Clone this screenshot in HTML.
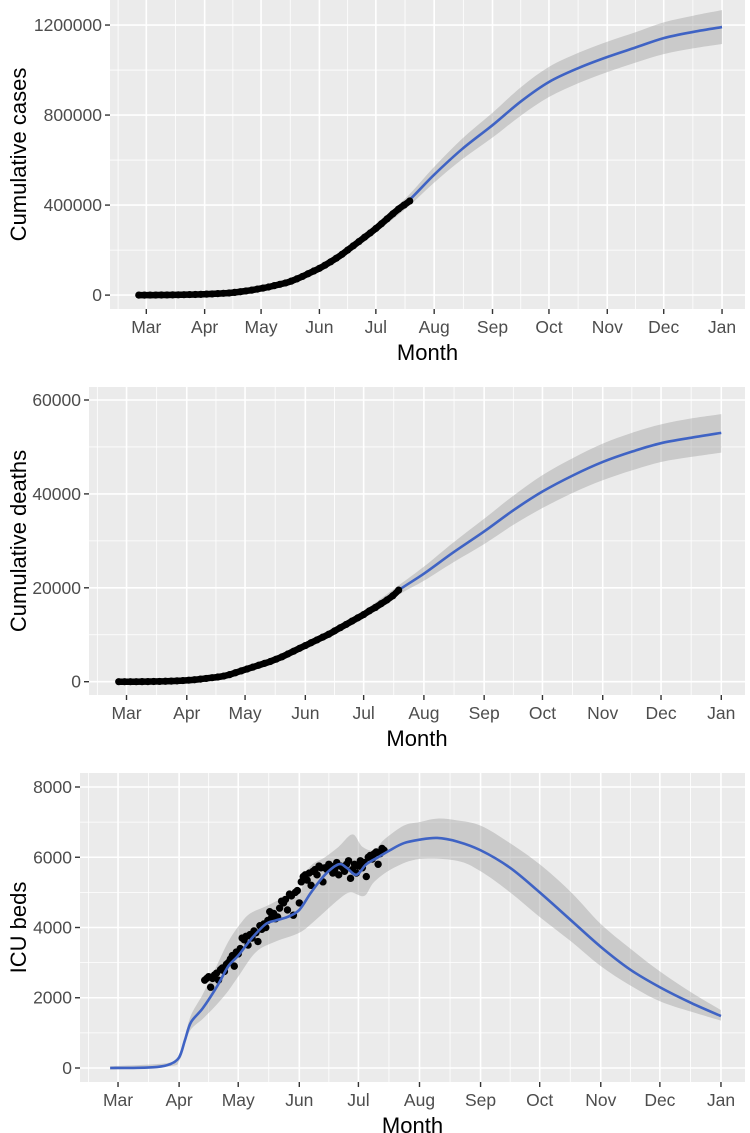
<!DOCTYPE html>
<html><head><meta charset="utf-8"><style>
body{margin:0;background:#fff}
svg{display:block;font-family:"Liberation Sans",Arial,sans-serif}
</style></head><body>
<svg id="chart" width="750" height="1133" viewBox="0 0 750 1133" xmlns="http://www.w3.org/2000/svg"></svg>
<script>
// Shared x categories: days since Mar 1
const monthLabels = ["Mar","Apr","May","Jun","Jul","Aug","Sep","Oct","Nov","Dec","Jan"];
const monthDays = [0,31,61,92,122,153,184,214,245,275,306];

// Panel 1: cumulative cases
const casesObsDays = [-4,-1,2,5,8,11,14,17,20,23,26,29,32,35,38,41,44,47,50,53,56,59,62,65,68,71,74,77,80,83,86,89,92,95,98,101,104,107,110,113,116,119,122,125,128,131,134,137,140];
const casesObs = [0,0,100,200,400,700,1000,1400,1800,2300,2800,3400,4200,5200,6500,8000,9500,12000,15000,18500,22000,26500,31000,36000,42000,48000,54000,62000,72000,83000,95000,107000,119000,133000,148000,164000,181000,200000,219000,238000,257000,276000,296000,317000,339000,361000,382000,400000,418000];
const casesLineDays = [-4,15,30,45,61,76,92,107,122,138,153,168,184,199,214,230,245,260,275,291,306];
const casesLine = [0,1100,3600,10000,30000,59000,119000,200000,296000,408000,535000,650000,755000,860000,947000,1010000,1058000,1100000,1142000,1170000,1191000];
const casesLow = [0,900,3000,8500,26000,53000,110000,187000,280000,384000,500000,604000,700000,797000,880000,943000,991000,1033000,1071000,1097000,1116000];
const casesHigh = [0,1300,4200,11500,34000,65000,128000,213000,312000,432000,570000,696000,810000,923000,1014000,1078000,1126000,1168000,1212000,1242000,1266000];
const casesTicks = [0,400000,800000,1200000];

// Panel 2: cumulative deaths
const deathsObsDays = [-4,-1,2,5,8,11,14,17,20,23,26,29,32,35,38,41,44,47,50,53,56,59,62,65,68,71,74,77,80,83,86,89,92,95,98,101,104,107,110,113,116,119,122,125,128,131,134,137,140];
const deathsObs = [0,0,0,0,10,20,40,60,90,130,180,240,320,420,550,700,850,1000,1200,1500,1900,2300,2700,3100,3500,3900,4300,4800,5300,5900,6500,7100,7700,8300,8900,9500,10100,10800,11500,12200,12900,13600,14300,15100,15800,16600,17400,18300,19500];
const deathsLineDays = [-4,15,31,46,61,76,92,107,122,140,153,168,184,199,214,230,245,260,275,291,306];
const deathsLine = [0,30,250,900,2500,4600,7700,10800,14300,19500,23000,27500,32000,36500,40500,44000,46800,49000,50800,52000,53000];
const deathsLow = [0,20,200,750,2250,4200,7200,10200,13500,18500,21500,25400,29300,33400,37000,40300,42900,45000,46800,47900,48800];
const deathsHigh = [0,40,300,1050,2750,5000,8200,11400,15100,20500,24500,29600,34700,39600,44000,47700,50700,53000,54800,56100,57000];
const deathsTicks = [0,20000,40000,60000];

// Panel 3: ICU beds
const icuObsStartDay = 44;
const icuObs = [2500,2550,2600,2300,2550,2650,2700,2500,2800,2850,
2750,2950,3000,3100,3200,2900,3300,3250,3400,3700,
3650,3750,3500,3800,3700,3900,3850,3600,4050,3950,
4100,4000,4200,4450,4300,4400,4250,4300,4550,4750,
4700,4800,4500,4950,4900,4350,5000,5050,4700,5300,
5450,5500,5350,5550,5200,5600,5650,5500,5750,5700,
5300,5700,5650,5800,5750,5550,5650,5850,5500,5750,
5700,5600,5800,5900,5400,5650,5800,5550,5750,5900,
5700,5850,5450,6000,6050,5950,6100,6150,5800,6100,6250,6200];
const icuLineDays = [-4,10,20,26,31,34,37,43,50,56,61,68,75,80,86,92,98,105,112,116,121,126,132,138,145,153,162,172,184,199,214,230,245,260,275,291,306];
const icuLine = [0,5,30,100,300,800,1300,1700,2300,2900,3200,3700,4100,4200,4300,4500,5000,5500,5800,5700,5500,5800,6000,6200,6400,6500,6550,6450,6200,5700,5000,4200,3450,2800,2300,1850,1480];
const icuHighDays = [-4,26,31,34,37,43,50,56,62,67,75,86,92,97,105,112,119,124,130,135,145,153,162,172,184,199,214,230,245,260,275,291,306];
const icuHigh = [50,150,400,900,1500,2100,2900,3600,4100,4400,4600,4900,4950,5700,6000,6300,6650,6300,6200,6500,6900,7000,7100,7050,6900,6400,5800,5000,4100,3400,2750,2150,1650];
const icuLowDays = [-4,26,31,34,37,43,50,56,61,70,80,92,100,112,118,125,130,140,153,172,184,199,214,230,245,260,275,291,306];
const icuLow = [-50,50,200,700,1100,1400,1800,2200,2600,3300,3600,3850,4200,4800,5000,4900,5300,5700,5950,5900,5600,5000,4300,3600,2900,2350,1900,1600,1350];
const icuTicks = [0,2000,4000,6000,8000];

const NS = "http://www.w3.org/2000/svg";
const svg = document.getElementById("chart");
function mk(tag, attrs, parent){const e=document.createElementNS(NS,tag);for(const k in attrs)e.setAttribute(k,attrs[k]);(parent||svg).appendChild(e);return e;}
function smoothPath(pts){
  let d="M"+pts[0][0].toFixed(2)+","+pts[0][1].toFixed(2);
  for(let i=0;i<pts.length-1;i++){
    const p0=pts[Math.max(0,i-1)],p1=pts[i],p2=pts[i+1],p3=pts[Math.min(pts.length-1,i+2)];
    const c1x=p1[0]+(p2[0]-p0[0])/6,c1y=p1[1]+(p2[1]-p0[1])/6;
    const c2x=p2[0]-(p3[0]-p1[0])/6,c2y=p2[1]-(p3[1]-p1[1])/6;
    d+=" C"+c1x.toFixed(2)+","+c1y.toFixed(2)+" "+c2x.toFixed(2)+","+c2y.toFixed(2)+" "+p2[0].toFixed(2)+","+p2[1].toFixed(2);
  }
  return d;
}
const X0=-19.3, X1=318.2;

function panel(cfg){
  const g=mk("g",{});
  
  
  const L=cfg.left,R=745,T=cfg.top,B=cfg.bottom;
  const xs=d=>L+(d-X0)/(X1-X0)*(R-L);
  const ys=v=>B-(v-cfg.ymin)/(cfg.ymax-cfg.ymin)*(B-T);
  const bg=mk("rect",{x:L,y:T,width:R-L,height:B-T,fill:"#EBEBEB"},g);
  
  
  const step=cfg.ticks[1]-cfg.ticks[0];
  for(let i=0;i<cfg.ticks.length+1;i++){
    const v=cfg.ticks[0]+(i-0.5)*step;const y=ys(v);
    if(y>T&&y<B){const l=mk("line",{x1:L,x2:R,y1:y,y2:y,stroke:"#fff","stroke-width":0.8},g);
      }
  }
  const minorDays=[-15].concat(monthDays.slice(0,-1).map((d,i)=>(d+monthDays[i+1])/2)).concat([321]);
  minorDays.forEach(d=>{const x=xs(d);if(x>L&&x<R){const l=mk("line",{x1:x,x2:x,y1:T,y2:B,stroke:"#fff","stroke-width":0.8},g);
    }});
  cfg.ticks.forEach(v=>{const y=ys(v);const l=mk("line",{x1:L,x2:R,y1:y,y2:y,stroke:"#fff","stroke-width":1.6},g);
    
    const t=mk("line",{x1:L-5,x2:L,y1:y,y2:y,stroke:"#333","stroke-width":1.4},g);
    
    const tx=mk("text",{x:L-8,y:y+6,"text-anchor":"end","font-size":17.5,fill:"#4D4D4D"},g);tx.textContent=String(v);
    });
  monthDays.forEach((d,i)=>{const x=xs(d);const l=mk("line",{x1:x,x2:x,y1:T,y2:B,stroke:"#fff","stroke-width":1.6},g);
    
    const t=mk("line",{x1:x,x2:x,y1:B,y2:B+5,stroke:"#333","stroke-width":1.4},g);
    
    const tx=mk("text",{x:x,y:B+24,"text-anchor":"middle","font-size":17.5,fill:"#4D4D4D"},g);tx.textContent=monthLabels[i];
    });
  const up=cfg.hiDays.map((d,i)=>[xs(d),ys(cfg.hi[i])]);
  const lo=cfg.loDays.map((d,i)=>[xs(d),ys(cfg.lo[i])]).reverse();
  const rp=smoothPath(up)+" L"+lo[0][0]+","+lo[0][1]+smoothPath(lo).replace(/^M[^ ]+/,"")+" Z";
  const rib=mk("path",{d:rp,fill:"#999",opacity:0.4},g);
  
  function drawPoints(){
    if(cfg.trace){
      const tr=mk("path",{d:smoothPath(cfg.obsDays.map((d,i)=>[xs(d),ys(cfg.obs[i])])),fill:"none",stroke:"#000","stroke-width":6.5,"stroke-linecap":"round"},g);
      
    }
    cfg.obsDays.forEach((d,i)=>{const c=mk("circle",{cx:xs(d),cy:ys(cfg.obs[i]),r:cfg.r,fill:"#000"},g);
      });
  }
  if(!cfg.pointsOnTop)drawPoints();
  const line=mk("path",{d:smoothPath(cfg.lineDays.map((d,i)=>[xs(d),ys(cfg.line[i])])),fill:"none",stroke:"#3F63C4","stroke-width":2.6},g);
  
  if(cfg.pointsOnTop)drawPoints();
  const xt=mk("text",{x:(L+R)/2,y:B+51,"text-anchor":"middle","font-size":22,fill:"#000"},g);xt.textContent="Month";
  
  const yc=(T+B)/2;
  const yt=mk("text",{x:0,y:0,"text-anchor":"middle","font-size":22,fill:"#000",transform:"translate(26,"+yc+") rotate(-90)"},g);yt.textContent=cfg.ytitle;
  
}

panel({name:"cases",left:110,top:0,bottom:309,ymin:-61750,ymax:1311250,ticks:casesTicks,ytitle:"Cumulative cases",r:3.6,trace:true,
  obsDays:casesObsDays,obs:casesObs,lineDays:casesLineDays,line:casesLine,hiDays:casesLineDays,hi:casesHigh,loDays:casesLineDays,lo:casesLow,pointsOnTop:true});
panel({name:"deaths",left:89,top:387,bottom:695,ymin:-2833,ymax:62769,ticks:deathsTicks,ytitle:"Cumulative deaths",r:3.6,trace:true,
  obsDays:deathsObsDays,obs:deathsObs,lineDays:deathsLineDays,line:deathsLine,hiDays:deathsLineDays,hi:deathsHigh,loDays:deathsLineDays,lo:deathsLow,pointsOnTop:true});
panel({name:"icu",left:80,top:773,bottom:1082,ymin:-398.6,ymax:8398.6,ticks:icuTicks,ytitle:"ICU beds",r:3.7,trace:false,
  obsDays:icuObs.map((v,i)=>icuObsStartDay+i),obs:icuObs,lineDays:icuLineDays,line:icuLine,hiDays:icuHighDays,hi:icuHigh,loDays:icuLowDays,lo:icuLow,pointsOnTop:false});
</script>
</body></html>
